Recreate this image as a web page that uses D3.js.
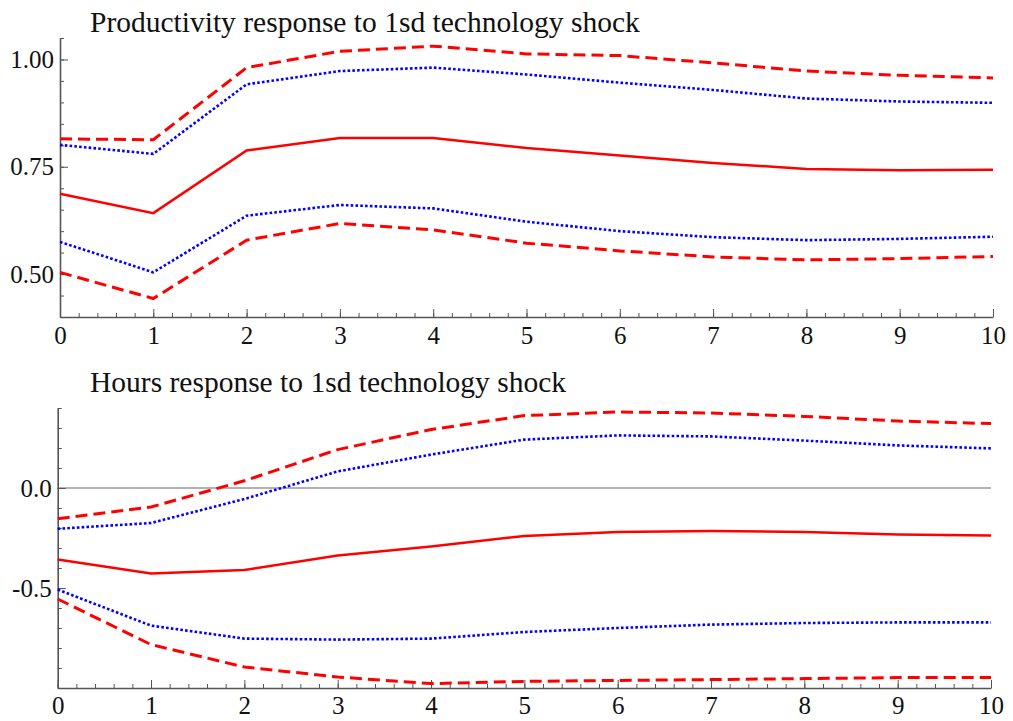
<!DOCTYPE html>
<html>
<head>
<meta charset="utf-8">
<script src="https://cdn.jsdelivr.net/npm/d3@7"></script>
<style>
  html, body { margin: 0; padding: 0; background: #fff; }
  svg { display: block; }
</style>
</head>
<body>
<svg id="chart" width="1013" height="721"></svg>
<script>
// Horizon (periods after the shock)
const horizon = [0, 1, 2, 3, 4, 5, 6, 7, 8, 9, 10];

// Productivity impulse response: median and two error bands
const prodMedian  = [0.687, 0.642, 0.788, 0.817, 0.817, 0.794, 0.776, 0.759, 0.745, 0.742, 0.743];
const prodUpper90 = [0.815, 0.813, 0.981, 1.019, 1.031, 1.013, 1.009, 0.992, 0.973, 0.963, 0.957];
const prodUpper68 = [0.801, 0.780, 0.942, 0.973, 0.981, 0.965, 0.946, 0.929, 0.909, 0.902, 0.899];
const prodLower68 = [0.575, 0.504, 0.636, 0.661, 0.653, 0.622, 0.600, 0.586, 0.579, 0.582, 0.587];
const prodLower90 = [0.504, 0.443, 0.579, 0.618, 0.603, 0.572, 0.554, 0.540, 0.533, 0.536, 0.541];

// Hours impulse response: median and two error bands
const hoursMedian  = [-0.358, -0.428, -0.410, -0.337, -0.292, -0.240, -0.220, -0.215, -0.220, -0.232, -0.238];
const hoursUpper90 = [-0.154, -0.095, 0.036, 0.192, 0.292, 0.362, 0.380, 0.375, 0.358, 0.335, 0.322];
const hoursUpper68 = [-0.204, -0.175, -0.055, 0.083, 0.167, 0.242, 0.263, 0.258, 0.237, 0.213, 0.198];
const hoursLower68 = [-0.508, -0.688, -0.753, -0.758, -0.753, -0.720, -0.700, -0.683, -0.675, -0.672, -0.672];
const hoursLower90 = [-0.555, -0.783, -0.895, -0.945, -0.978, -0.967, -0.962, -0.958, -0.953, -0.948, -0.947];

// Axis ticks and labels
const xMajorTicks = [0, 1, 2, 3, 4, 5, 6, 7, 8, 9, 10];
const prodTicks   = [0.50, 0.75, 1.00];
const hoursTicks  = [-0.5, 0.0];

const titles = [
  "Productivity response to 1sd technology shock",
  "Hours response to 1sd technology shock"
];

const RED = "#ff0000", BLUE = "#0000ff";
const FONT = "'Liberation Serif', 'Times New Roman', serif";

const styles = {
  solid:  { color: RED,  width: 2.5, dash: null },
  dashed: { color: RED,  width: 3,   dash: "12,6" },
  dotted: { color: BLUE, width: 2.6, dash: "2.6,2.2" }
};

const panels = [
  {
    title: titles[0], titleY: 32,
    xRange: [60, 993], yRange: [317, 38], domain: [0.40, 1.05],
    major: prodTicks, minorCount: 13, fmt: d => d.toFixed(2),
    zeroLine: false, xLabelY: 344,
    series: [
      [prodUpper90, "dashed"], [prodUpper68, "dotted"], [prodMedian, "solid"],
      [prodLower68, "dotted"], [prodLower90, "dashed"]
    ]
  },
  {
    title: titles[1], titleY: 392,
    xRange: [57.7, 991], yRange: [688, 408], domain: [-1.0, 0.4],
    major: hoursTicks, minorCount: 14, fmt: d => d.toFixed(1),
    zeroLine: true, xLabelY: 714,
    series: [
      [hoursUpper90, "dashed"], [hoursUpper68, "dotted"], [hoursMedian, "solid"],
      [hoursLower68, "dotted"], [hoursLower90, "dashed"]
    ]
  }
];

const svg = d3.select("#chart");
const AXIS_COLOR = "#555";

panels.forEach(p => {
  const x = d3.scaleLinear().domain([0, 10]).range(p.xRange);
  const y = d3.scaleLinear().domain(p.domain).range(p.yRange);
  const g = svg.append("g");

  // Title
  g.append("text")
    .attr("x", 90).attr("y", p.titleY)
    .attr("font-family", FONT).attr("font-size", 29.5)
    .attr("fill", "#111")
    .text(p.title);

  // Zero reference line
  if (p.zeroLine) {
    g.append("line")
      .attr("x1", p.xRange[0]).attr("x2", p.xRange[1])
      .attr("y1", y(0)).attr("y2", y(0))
      .attr("stroke", "#999").attr("stroke-width", 1.4);
  }

  // Minor ticks (inward)
  const minorY = g.append("g")
    .attr("transform", `translate(${p.xRange[0]},0)`)
    .call(d3.axisLeft(y).ticks(p.minorCount).tickSize(-4).tickFormat(""));
  minorY.select(".domain").remove();

  const minorX = g.append("g")
    .attr("transform", `translate(0,${p.yRange[0]})`)
    .call(d3.axisBottom(x).ticks(50).tickSize(-4).tickFormat(""));
  minorX.select(".domain").remove();

  // Major axes
  const yAxis = g.append("g")
    .attr("transform", `translate(${p.xRange[0]},0)`)
    .call(d3.axisLeft(y).tickValues(p.major).tickSize(-8).tickSizeOuter(0)
      .tickPadding(6).tickFormat(p.fmt));

  const xAxis = g.append("g")
    .attr("transform", `translate(0,${p.yRange[0]})`)
    .call(d3.axisBottom(x).tickValues(xMajorTicks).tickSize(-8).tickSizeOuter(0)
      .tickFormat(d3.format("d")));

  [minorX, minorY, xAxis, yAxis].forEach(a => {
    a.selectAll(".tick line").attr("stroke", AXIS_COLOR).attr("stroke-width", 1);
  });
  [xAxis, yAxis].forEach(a => {
    a.select(".domain").attr("stroke", AXIS_COLOR).attr("stroke-width", 1.6);
    a.selectAll("text")
      .attr("font-family", FONT).attr("font-size", 25).attr("fill", "#111");
  });
  xAxis.selectAll("text").attr("y", null).attr("dy", null)
    .attr("transform", `translate(0,${p.xLabelY - p.yRange[0]})`);

  // Response lines
  const line = d3.line()
    .x((d, i) => x(horizon[i]))
    .y(d => y(d));

  p.series.forEach(([values, kind]) => {
    const s = styles[kind];
    g.append("path")
      .datum(values)
      .attr("d", line)
      .attr("fill", "none")
      .attr("stroke", s.color)
      .attr("stroke-width", s.width)
      .attr("stroke-dasharray", s.dash)
      .attr("stroke-linejoin", "miter");
  });
});
</script>
</body>
</html>
